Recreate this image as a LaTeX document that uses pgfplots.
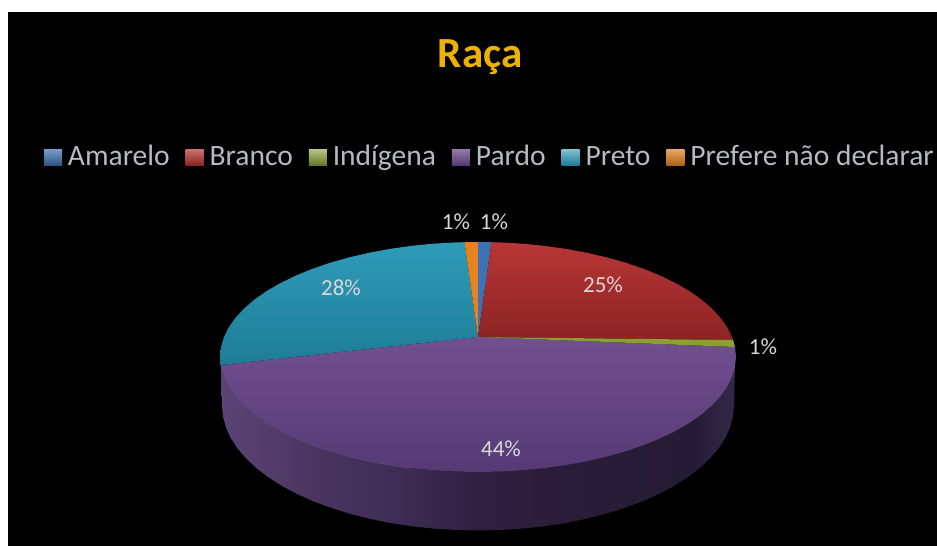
\documentclass[border=0pt]{standalone}
\usepackage{pgfplots}
\pgfplotsset{compat=1.18}
\usepackage{fontspec}
\setmainfont{Carlito}
\definecolor{titlegold}{HTML}{EDB200}
\definecolor{lbl}{HTML}{D8D8D8}
\definecolor{legtext}{HTML}{B4BAC0}
\definecolor{blueA}{HTML}{3F72B4}
\definecolor{redT}{HTML}{B83636}
\definecolor{redB}{HTML}{8C2323}
\definecolor{greenA}{HTML}{8CA032}
\definecolor{purT}{HTML}{71508F}
\definecolor{purB}{HTML}{553A75}
\definecolor{tealT}{HTML}{2E9BB9}
\definecolor{tealB}{HTML}{1F7C96}
\definecolor{orangeA}{HTML}{E8821E}
\definecolor{sA}{HTML}{5C4476}
\definecolor{sB}{HTML}{48345F}
\definecolor{sC}{HTML}{3C2C52}
\definecolor{sD}{HTML}{301F40}
\definecolor{sE}{HTML}{281C36}
\definecolor{sF}{HTML}{261B34}
\definecolor{sG}{HTML}{34284A}
\pgfdeclarehorizontalshading{sidegrad}{100bp}{
 color(0bp)=(sA);
 color(25bp)=(sA);
 color(35bp)=(sB);
 color(43bp)=(sC);
 color(50bp)=(sD);
 color(62bp)=(sE);
 color(71bp)=(sF);
 color(75bp)=(sG);
 color(100bp)=(sG)}
\begin{document}
\begin{tikzpicture}
\begin{axis}[
  width=937pt,height=546pt,scale only axis,
  xmin=0,xmax=937,ymin=0,ymax=546,y dir=reverse,
  hide axis,clip=true,
  legend columns=-1,
  legend style={draw=none,fill=none,at={(axis cs:44,157)},anchor=west,
    inner sep=0pt,outer sep=0pt,
    font=\fontsize{29.5}{29.5}\selectfont,text=legtext,
    /tikz/every odd column/.append style={column sep=4pt},
    /tikz/every even column/.append style={column sep=14pt},
    /tikz/column 4/.append style={column sep=18pt},
    nodes={inner xsep=2pt,inner ysep=0pt,text height=20pt,text depth=4pt}},
  legend image code/.code={\path[#1] (0pt,-8pt) rectangle (18pt,8pt);},
]
\addplot[forget plot,fill=white,draw=none] coordinates {(0,0)(937,0)(937,546)(0,546)} -- cycle;
\addplot[forget plot,fill=black,draw=none] coordinates {(8,12)(937,12)(937,546)(8,546)} -- cycle;

% side wall
\addplot[forget plot,draw=none,shading=sidegrad] coordinates {
(221,367)(222,405.5)(223,416.4)(225.9,427.2)(230.7,437.9)(237.4,448.3)(246,458.3)(256.3,468)(268.3,477.2)(281.9,485.9)(297,493.9)(313.4,501.3)(331.2,507.9)(350,513.8)(369.8,518.8)(390.4,523)(411.7,526.2)(433.6,528.6)(455.7,530)(478,530.5)(500.3,530)(522.4,528.6)(544.3,526.2)(565.6,523)(586.2,518.8)(606,513.8)(624.8,507.9)(642.6,501.3)(659,493.9)(674.1,485.9)(687.7,477.2)(699.7,468)(710,458.3)(718.6,448.3)(725.3,437.9)(730.1,427.2)(733,416.4)(734,405.5)(735,367)
(732.1,377)(727.2,386.8)(720.4,396.3)(711.8,405.6)(701.4,414.5)(689.3,423)(675.6,430.9)(660.4,438.3)(643.8,445.1)(626,451.2)(607,456.6)(587,461.2)(566.2,465.1)(544.8,468.1)(522.8,470.3)(500.5,471.6)(478,472)(455.5,471.6)(433.2,470.3)(411.2,468.1)(389.8,465.1)(369,461.2)(349,456.6)(330,451.2)(312.2,445.1)(295.6,438.3)(280.4,430.9)(266.7,423)(254.6,414.5)(244.2,405.6)(235.6,396.3)(228.8,386.8)(223.9,377)
} -- cycle;

% Pardo 44%
\addplot[forget plot,draw=none,top color=purT,bottom color=purB] coordinates {
(478,337)(735,347)(736,357)(735,367)(732.1,377)(727.2,386.8)(720.4,396.3)(711.8,405.6)(701.4,414.5)(689.3,423)(675.6,430.9)(660.4,438.3)(643.8,445.1)(626,451.2)(607,456.6)(587,461.2)(566.2,465.1)(544.8,468.1)(522.8,470.3)(500.5,471.6)(478,472)(455.5,471.6)(433.2,470.3)(411.2,468.1)(389.8,465.1)(369,461.2)(349,456.6)(330,451.2)(312.2,445.1)(295.6,438.3)(280.4,430.9)(266.7,423)(254.6,414.5)(244.2,405.6)(235.6,396.3)(228.8,386.8)(223.9,377)(221,367)(220.6,365)
} -- cycle;
% Pardo rim highlight
\addplot[forget plot,draw=purT!85!black,line width=0.8pt] coordinates {
(223.9,377)(228.8,386.8)(235.6,396.3)(244.2,405.6)(254.6,414.5)(266.7,423)(280.4,430.9)(295.6,438.3)(312.2,445.1)(330,451.2)(349,456.6)(369,461.2)(389.8,465.1)(411.2,468.1)};

% Preto 28%
\addplot[forget plot,draw=none,top color=tealT,bottom color=tealB] coordinates {
(478,337)(220.6,365)(220,357)(221,347)(223.9,337)(228.8,327.2)(235.6,317.7)(244.2,308.4)(254.6,299.5)(266.7,291)(280.4,283.1)(295.6,275.7)(312.2,268.9)(330,262.8)(349,257.4)(369,252.8)(389.8,248.9)(411.2,245.9)(433.2,243.7)(455.5,242.4)(464.5,242.2)
} -- cycle;
% Prefere nao declarar 1%
\addplot[forget plot,fill=orangeA,draw=none] coordinates {
(478,337)(464.5,242.2)(478,242)} -- cycle;
% Amarelo 1%
\addplot[forget plot,fill=blueA,draw=none] coordinates {
(478,337)(478,242)(491.5,242.2)} -- cycle;
% Branco 25%
\addplot[forget plot,draw=none,top color=redT,bottom color=redB] coordinates {
(478,337)(491.5,242.2)(500.5,242.4)(522.8,243.7)(544.8,245.9)(566.2,248.9)(587,252.8)(607,257.4)(626,262.8)(643.8,268.9)(660.4,275.7)(675.6,283.1)(689.3,291)(701.4,299.5)(711.8,308.4)(720.4,317.7)(727.2,327.2)(732.1,337)(733.2,340)
} -- cycle;
% Indigena 1%
\addplot[forget plot,fill=greenA,draw=none] coordinates {
(478,337)(733.2,340)(735,347)} -- cycle;

\addlegendimage{draw=none,top color=blueA!70!white,bottom color=blueA!75!black}
\addlegendimage{draw=none,top color=redT!70!white,bottom color=redB}
\addlegendimage{draw=none,top color=greenA!60!white,bottom color=greenA!75!black}
\addlegendimage{draw=none,top color=purT!75!white,bottom color=purB}
\addlegendimage{draw=none,top color=tealT!60!white,bottom color=tealB}
\addlegendimage{draw=none,top color=orangeA!70!white,bottom color=orangeA!75!black}
\legend{Amarelo,Branco,Indígena,Pardo,Preto,Prefere não declarar}

\node[text=titlegold,font=\fontsize{43}{43}\selectfont\bfseries] at (axis cs:480,57) {Raça};
\node[text=lbl,font=\fontsize{23}{23}\selectfont] at (axis cs:456,222) {1\%};
\node[text=lbl,font=\fontsize{23}{23}\selectfont] at (axis cs:494,222) {1\%};
\node[text=lbl,font=\fontsize{23}{23}\selectfont] at (axis cs:603,285) {25\%};
\node[text=lbl,font=\fontsize{23}{23}\selectfont] at (axis cs:763,347) {1\%};
\node[text=lbl,font=\fontsize{23}{23}\selectfont] at (axis cs:501,449) {44\%};
\node[text=lbl,font=\fontsize{23}{23}\selectfont] at (axis cs:341,288) {28\%};
\end{axis}
\end{tikzpicture}
\end{document}
